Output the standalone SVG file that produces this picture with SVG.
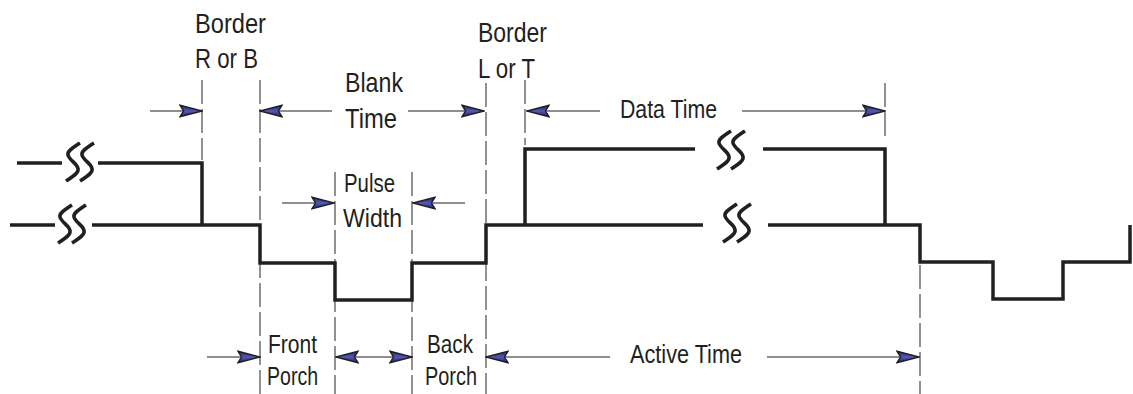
<svg xmlns="http://www.w3.org/2000/svg" xmlns:xlink="http://www.w3.org/1999/xlink" width="1133" height="394" viewBox="0 0 1133 394">
<style>
.sig{fill:none;stroke:#231f20;stroke-width:3.5;stroke-linejoin:miter;stroke-linecap:butt}
.brk{fill:none;stroke:#231f20;stroke-width:3.6;stroke-linecap:butt}
.dash{fill:none;stroke:#4a4a4a;stroke-width:1.2;stroke-dasharray:24 5}
.dim{fill:none;stroke:#231f20;stroke-width:1.2}
.arr{marker-end:url(#ah)}
.arr2{marker-start:url(#ah);marker-end:url(#ah)}
text{font-family:"Liberation Sans",Arial,sans-serif;font-size:25px;fill:#231f20}
text.lg{font-size:28px}
</style>
<defs>
<linearGradient id="bg" x1="0" y1="0" x2="0" y2="1">
<stop offset="0" stop-color="#1b1f78"/>
<stop offset="0.5" stop-color="#5459b4"/>
<stop offset="1" stop-color="#1b1f78"/>
</linearGradient>
<marker id="ah" viewBox="0 0 24 14" refX="23" refY="7" markerWidth="24" markerHeight="14" markerUnits="userSpaceOnUse" orient="auto-start-reverse">
<path d="M1,1.2 L23,7 L1,12.8 L4.5,7 Z" fill="url(#bg)" stroke="#231f20" stroke-width="1.4" stroke-linejoin="miter"/>
</marker>
<path id="s1" d="M7,-19 C1,-15 -6,-11 -5,-7 C-4,-2 5,2 5,7 C6,11 -1,15 -7,19"/>
<g id="brk" class="brk"><use xlink:href="#s1" x="-7"/><use xlink:href="#s1" x="7"/></g>
</defs>

<g id="dashed-guides">
<path class="dash" d="M202,80 V160"/>
<path class="dash" d="M260,80 V394"/>
<path class="dash" d="M335,172 V394"/>
<path class="dash" d="M412,172 V394"/>
<path class="dash" d="M486,83 V394"/>
<path class="dash" d="M525,80 V145"/>
<path class="dash" d="M885,83 V140"/>
<path class="dash" d="M920,265 V394"/>
</g>

<g id="signal">
<path class="sig" d="M17,163 H62 M98,163 H202 V226"/>
<path class="sig" d="M10,225 H55 M92,225 H260 V263 H335 V300 H412 V263 H486 V225 H703"/>
<path class="sig" d="M525,225 V149 H695"/>
<path class="sig" d="M763,149 H885 V225"/>
<path class="sig" d="M768,225 H920 V262 H993 V299 H1063 V262 H1130 V225"/>
<use xlink:href="#brk" x="80" y="162"/>
<use xlink:href="#brk" x="72" y="224"/>
<use xlink:href="#brk" x="731" y="150"/>
<use xlink:href="#brk" x="737" y="223"/>
</g>

<g id="connectors">
<path class="dim arr" d="M150,111 H202"/>
<path class="dim arr" d="M332,111 H260"/>
<path class="dim arr" d="M408,111 H484"/>
<path class="dim arr" d="M600,111 H527"/>
<path class="dim arr" d="M742,111 H885"/>
<path class="dim arr" d="M282,203 H334"/>
<path class="dim arr" d="M465,203 H413"/>
<path class="dim arr" d="M207,357 H260"/>
<path class="dim arr2" d="M336,357 H412"/>
<path class="dim arr" d="M610,357 H486"/>
<path class="dim arr" d="M767,357 H919"/>
</g>

<g id="label-border-rb">
<text class="lg" x="195" y="33" textLength="71" lengthAdjust="spacingAndGlyphs">Border</text>
<text class="lg" x="195" y="68" textLength="63" lengthAdjust="spacingAndGlyphs">R or B</text>
</g>
<g id="label-blank-time">
<text class="lg" x="345" y="92" textLength="58" lengthAdjust="spacingAndGlyphs">Blank</text>
<text class="lg" x="345" y="128" textLength="52" lengthAdjust="spacingAndGlyphs">Time</text>
</g>
<g id="label-border-lt">
<text class="lg" x="478" y="42" textLength="69" lengthAdjust="spacingAndGlyphs">Border</text>
<text class="lg" x="478" y="78" textLength="57" lengthAdjust="spacingAndGlyphs">L or T</text>
</g>
<g id="label-data-time">
<text x="620" y="118" textLength="97" lengthAdjust="spacingAndGlyphs">Data Time</text>
</g>
<g id="label-pulse-width">
<text x="344" y="192" textLength="51" lengthAdjust="spacingAndGlyphs">Pulse</text>
<text x="343" y="227" textLength="59" lengthAdjust="spacingAndGlyphs">Width</text>
</g>
<g id="label-front-porch">
<text x="268" y="353" textLength="49" lengthAdjust="spacingAndGlyphs">Front</text>
<text x="267" y="385" textLength="51" lengthAdjust="spacingAndGlyphs">Porch</text>
</g>
<g id="label-back-porch">
<text x="427" y="353" textLength="46" lengthAdjust="spacingAndGlyphs">Back</text>
<text x="425" y="385" textLength="52" lengthAdjust="spacingAndGlyphs">Porch</text>
</g>
<g id="label-active-time">
<text x="630" y="363" textLength="112" lengthAdjust="spacingAndGlyphs">Active Time</text>
</g>
</svg>
